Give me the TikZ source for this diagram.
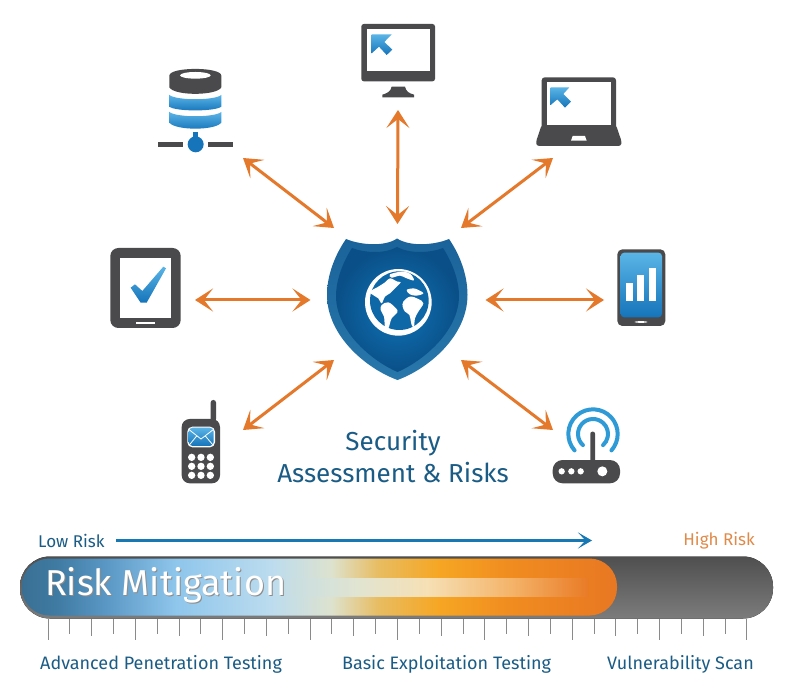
\documentclass[tikz,border=0pt]{standalone}
\usepackage{fontspec}
\setmainfont{Fira Sans}
\usetikzlibrary{arrows.meta,calc}
\definecolor{icongray}{HTML}{4A4A4C}
\definecolor{arrowor}{HTML}{E5792B}
\definecolor{textblue}{HTML}{1A5C85}
\definecolor{lineblue}{HTML}{1878B4}
\definecolor{iconlight}{HTML}{5AB4E6}
\definecolor{icondark}{HTML}{1574BA}
\definecolor{rimtop}{HTML}{1A639A}
\definecolor{rimbot}{HTML}{2877AB}
\definecolor{shieldin}{HTML}{0F74B8}
\definecolor{shieldout}{HTML}{0A4F87}
\definecolor{globeblue}{HTML}{0E68A8}
\definecolor{routerblue}{HTML}{2E9AD6}
\definecolor{hirisk}{HTML}{E08A4A}
\definecolor{r1}{HTML}{3A6F93}
\definecolor{r2}{HTML}{3F7BA3}
\definecolor{r3}{HTML}{5A97C4}
\definecolor{r4}{HTML}{8FC6EC}
\definecolor{r5}{HTML}{BCDCEE}
\definecolor{r6}{HTML}{DDE2CE}
\definecolor{r7}{HTML}{E8BC60}
\definecolor{r8}{HTML}{F6A623}
\definecolor{r9}{HTML}{F08C20}
\definecolor{r10}{HTML}{E87722}
\definecolor{s1}{HTML}{C8DEE2}
\definecolor{s2}{HTML}{E0E4D2}
\definecolor{s3}{HTML}{F6E0B5}
\definecolor{s4}{HTML}{F4B46A}
\definecolor{s5}{HTML}{E97B26}
\definecolor{bartop}{HTML}{4F4F4F}
\definecolor{barbot}{HTML}{7C7C7C}
\definecolor{tickgray}{HTML}{8A8A8A}
\pgfdeclarehorizontalshading{riskshade}{100bp}{
 color(0bp)=(r1);
 color(25bp)=(r1);
 color(28bp)=(r2);
 color(32bp)=(r3);
 color(38bp)=(r4);
 color(46bp)=(r5);
 color(51bp)=(r6);
 color(55bp)=(r7);
 color(60bp)=(r8);
 color(66bp)=(r9);
 color(75bp)=(r10);
 color(100bp)=(r10)}
\pgfdeclarehorizontalshading{stripshade}{100bp}{
 color(0bp)=(s1);
 color(25bp)=(s1);
 color(36bp)=(s2);
 color(48bp)=(s3);
 color(62bp)=(s4);
 color(75bp)=(s5);
 color(100bp)=(s5)}
\tikzset{
 zs/.style 2 args={shift={(#1,#2)},x=0.33333pt,y=-0.33333pt},
 boxnode/.style={inner sep=0pt,outer sep=0pt},
 link/.style={draw=arrowor,line width=3pt,{Stealth[length=18pt,width=23pt,inset=9pt]}-{Stealth[length=18pt,width=23pt,inset=9pt]}},
 gfill/.style={fill=icongray},
 iconblue/.style={top color=iconlight,bottom color=icondark},
 bigtxt/.style={text=textblue,font=\fontsize{26}{30}\selectfont,inner sep=0pt},
 smalltxt/.style={font=\fontsize{18}{20}\selectfont,inner sep=0pt},
 risktxt/.style={font=\fontsize{17}{20}\selectfont,inner sep=0pt},
}
\begin{document}
\begin{tikzpicture}[x=1pt,y=-1pt]
\useasboundingbox (0,0) rectangle (800,692);
\fill[white] (0,0) rectangle (800,692);

% invisible anchor nodes
\node[boxnode,minimum width=85pt,minimum height=90pt] (server) at (200.5,113) {};
\node[boxnode,minimum width=74pt,minimum height=86pt] (monitor) at (398,67) {};
\node[boxnode,minimum width=69pt,minimum height=82pt] (laptop) at (587.5,117) {};
\node[boxnode,minimum width=85pt,minimum height=104pt] (tablet) at (152.5,300) {};
\node[boxnode,minimum width=61pt,minimum height=100pt] (phone) at (634.5,300) {};
\node[boxnode,minimum width=63pt,minimum height=54pt] (mobile) at (211.5,457) {};
\node[boxnode,minimum width=67pt,minimum height=54pt] (router) at (586.5,457) {};
\node[boxnode,minimum width=127pt,minimum height=132pt] (shield) at (397.5,294) {};

% connectors
\draw[link] (monitor.south) -- ([yshift=4pt]shield.north);
\draw[link] (server.south east) -- (shield.north west);
\draw[link] (laptop.south west) -- (shield.north east);
\draw[link] (tablet.east) -- ([xshift=-23.5pt,yshift=-6pt]shield.west);
\draw[link] (phone.west) -- ([xshift=24.5pt,yshift=-6pt]shield.east);
\draw[link] (mobile.north east) -- (shield.south west);
\draw[link] (router.north west) -- (shield.south east);

% shield
\path[top color=rimtop,bottom color=rimbot] (346,239) .. controls (360,245) and (385,247) .. (397,238.5) .. controls (410,247) and (435,245) .. (449,239) .. controls (460,255) and (467.5,275) .. (467.5,295) .. controls (467.5,335) and (430,368) .. (397.5,380) .. controls (365,368) and (327,335) .. (327,295) .. controls (327,275) and (335,255) .. (346,239) -- cycle;
\path[inner color=shieldin,outer color=shieldout] (352,248) .. controls (365,253) and (385,254) .. (397,247) .. controls (410,254) and (430,253) .. (443,248) .. controls (452,262) and (459,280) .. (459,296) .. controls (459,330) and (425,360) .. (397.5,372) .. controls (370,360) and (336,330) .. (336,296) .. controls (336,280) and (343,262) .. (352,248) -- cycle;
% globe
\begin{scope}[zs={310}{225}]
\fill[white] (265,232) circle[radius=100];
\fill[globeblue] (268,227) circle[radius=88];
\fill[white] plot[smooth cycle,tension=.6] coordinates {(180,200) (205,185) (225,172) (240,160) (262,170) (272,172) (255,190) (240,205) (225,215) (215,235) (205,220) (192,212)};
\fill[white] plot[smooth cycle,tension=.6] coordinates {(240,148) (275,140) (300,146) (312,166) (290,160) (270,152) (245,158)};
\fill[white] plot[smooth cycle,tension=.6] coordinates {(215,240) (235,232) (258,250) (262,262) (245,280) (235,310) (225,305) (222,275) (212,255)};
\fill[white] plot[smooth cycle,tension=.6] coordinates {(280,230) (300,215) (325,222) (340,235) (325,260) (315,280) (312,305) (305,300) (298,270) (285,260) (278,245)};
\fill[white] plot[smooth cycle,tension=.6] coordinates {(290,195) (310,190) (325,195) (340,205) (320,212) (300,208)};
\end{scope}

% server and monitor
\begin{scope}[zs={140}{10}]
\fill[gfill] (88,197) .. controls (88,170) and (244,170) .. (244,197) -- (244,232) .. controls (230,258) and (102,258) .. (88,232) -- cycle;
\fill[white] (166,196) ellipse[x radius=46,y radius=10];
\path[iconblue] (88,255) .. controls (110,272) and (222,272) .. (244,255) -- (244,290) .. controls (225,305) and (107,305) .. (88,290) -- cycle;
\path[iconblue] (88,306) .. controls (110,323) and (222,323) .. (244,306) -- (244,338) .. controls (225,362) and (107,362) .. (88,338) -- cycle;
\fill[icondark] (159,365) rectangle (175,390);
\fill[icondark] (167,403) circle[radius=24];
\fill[gfill] (55,395) rectangle (128,412);
\fill[gfill] (205,395) rectangle (279,412);
% monitor
\fill[gfill,rounded corners=2.5pt] (664,42) rectangle (885,214);
\fill[white] (680,57) rectangle (870,184);
\fill[gfill] (755,230) -- (795,230) .. controls (798,245) and (808,250) .. (822,254) -- (822,262) -- (727,262) -- (727,254) .. controls (741,250) and (752,245) .. (755,230) -- cycle;
\path[iconblue] (695,73) -- (755,73) -- (733,96) -- (757,119) -- (740,135) -- (717,110) -- (695,130) -- cycle;
\end{scope}

% laptop and phone
\begin{scope}[zs={520}{60}]
\fill[gfill,rounded corners=3pt] (65,52) rectangle (288,210);
\fill[gfill,rounded corners=2.5pt] (65,195) -- (288,195) -- (305,245) -- (303,258) -- (50,258) -- (48,245) -- cycle;
\fill[white] (80,67) rectangle (274,195);
\fill[white] (158,228) -- (195,228) -- (200,242) -- (153,242) -- cycle;
\path[iconblue] (92,82) -- (148,82) -- (130,102) -- (153,125) -- (135,143) -- (112,118) -- (92,135) -- cycle;
% phone
\fill[gfill,rounded corners=5pt] (292,568) rectangle (436,798);
\path[iconblue,rounded corners=3.5pt] (302,578) rectangle (426,772);
\fill[white] (318,668) rectangle (338,722);
\fill[white] (352,646) rectangle (373,722);
\fill[white] (387,624) rectangle (408,722);
\fill[white] (363,786) ellipse[x radius=20,y radius=2.5];
\end{scope}

% tablet and mobile
\begin{scope}[zs={100}{240}]
\fill[gfill,rounded corners=8pt] (31,24) rectangle (242,264);
\fill[white] (61,54) rectangle (212,234);
\fill[white] (108,246) rectangle (165,252);
\path[iconblue] (92,143) -- (105,133) -- (127,153) -- (190,80) -- (198,85) -- (140,188) -- (122,188) -- cycle;
% mobile
\fill[gfill,rounded corners=2.5pt] (332,480) rectangle (348,545);
\fill[gfill,rounded corners=8pt] (245,537) rectangle (360,730);
\fill[white,rounded corners=5pt] (262,560) rectangle (345,622);
\path[iconblue,rounded corners=4pt] (266,563) rectangle (341,618);
\draw[white,line width=.8pt] (266,568) -- (303,597) -- (341,568);
\draw[white,line width=.8pt] (268,615) -- (290,588);
\draw[white,line width=.8pt] (339,615) -- (316,588);
\foreach \kx in {275,303,331}{\foreach \ky in {652,679,706}{\fill[white] (\kx,\ky) circle[radius=11];}}
\end{scope}

% router
\begin{scope}[zs={540}{395}]
\draw[routerblue,line width=4pt,line cap=round] (159,117) ++(138.4:74) arc[start angle=138.4,end angle=401.6,radius=74];
\draw[routerblue,line width=4pt,line cap=round] (159,117) ++(132:45) arc[start angle=132,end angle=408,radius=45];
\fill[gfill,rounded corners=2pt] (151,110) rectangle (165,205);
\fill[gfill,rounded corners=10pt] (38,195) rectangle (240,265);
\foreach \dx in {65,94,122}{\fill[white] (\dx,229) circle[radius=9.5];}
\fill[white] (187,229) circle[radius=15];
\end{scope}

% title
\node[bigtxt] (t1) at (393,443) {Security};
\node[bigtxt] (t2) at (393,473) {Assessment \& Risks};

% risk scale
\node[risktxt,text=textblue,anchor=west] (low) at (38,540.5) {Low Risk};
\node[risktxt,text=hirisk,anchor=east] (high) at (755,540.5) {High Risk};
\coordinate (arrowstart) at (116,540.5);
\coordinate (arrowend) at (592,540.5);
\draw[lineblue,line width=2.4pt,-{Stealth[length=14pt,width=16pt,inset=7.5pt]}] (arrowstart) -- (arrowend);

% bar
\fill[top color=bartop,bottom color=barbot,rounded corners=30pt] (20,556.5) rectangle (773,618.5);
\path[shading=riskshade,rounded corners=27.5pt] (22,558.5) rectangle (617,615.5);
\path[shading=stripshade] (290,578) rectangle (588,596.5);
\foreach \i in {0,...,32}{
  \pgfmathtruncatemacro{\m}{mod(\i,4)}
  \pgfmathsetmacro{\tlen}{\m==0 ? 640 : (\m==2 ? 636 : 633.5)}
  \draw[tickgray,line width=.9pt] ({48+\i*21.84},619) -- ({48+\i*21.84},\tlen);
}
\node[inner sep=0pt,font=\fontsize{36}{40}\selectfont,text=black!45,anchor=west] (mitshadow) at (46,586.5) {Risk Mitigation};
\node[inner sep=0pt,font=\fontsize{36}{40}\selectfont,text=white,anchor=west] (mit) at (45,585.5) {Risk Mitigation};

\node[smalltxt,text=textblue,anchor=west] (apt) at (40,664) {Advanced Penetration Testing};
\node[smalltxt,text=textblue,anchor=west] (bet) at (342,664) {Basic Exploitation Testing};
\node[smalltxt,text=textblue,anchor=east] (vs) at (754,664) {Vulnerability Scan};
\end{tikzpicture}
\end{document}
